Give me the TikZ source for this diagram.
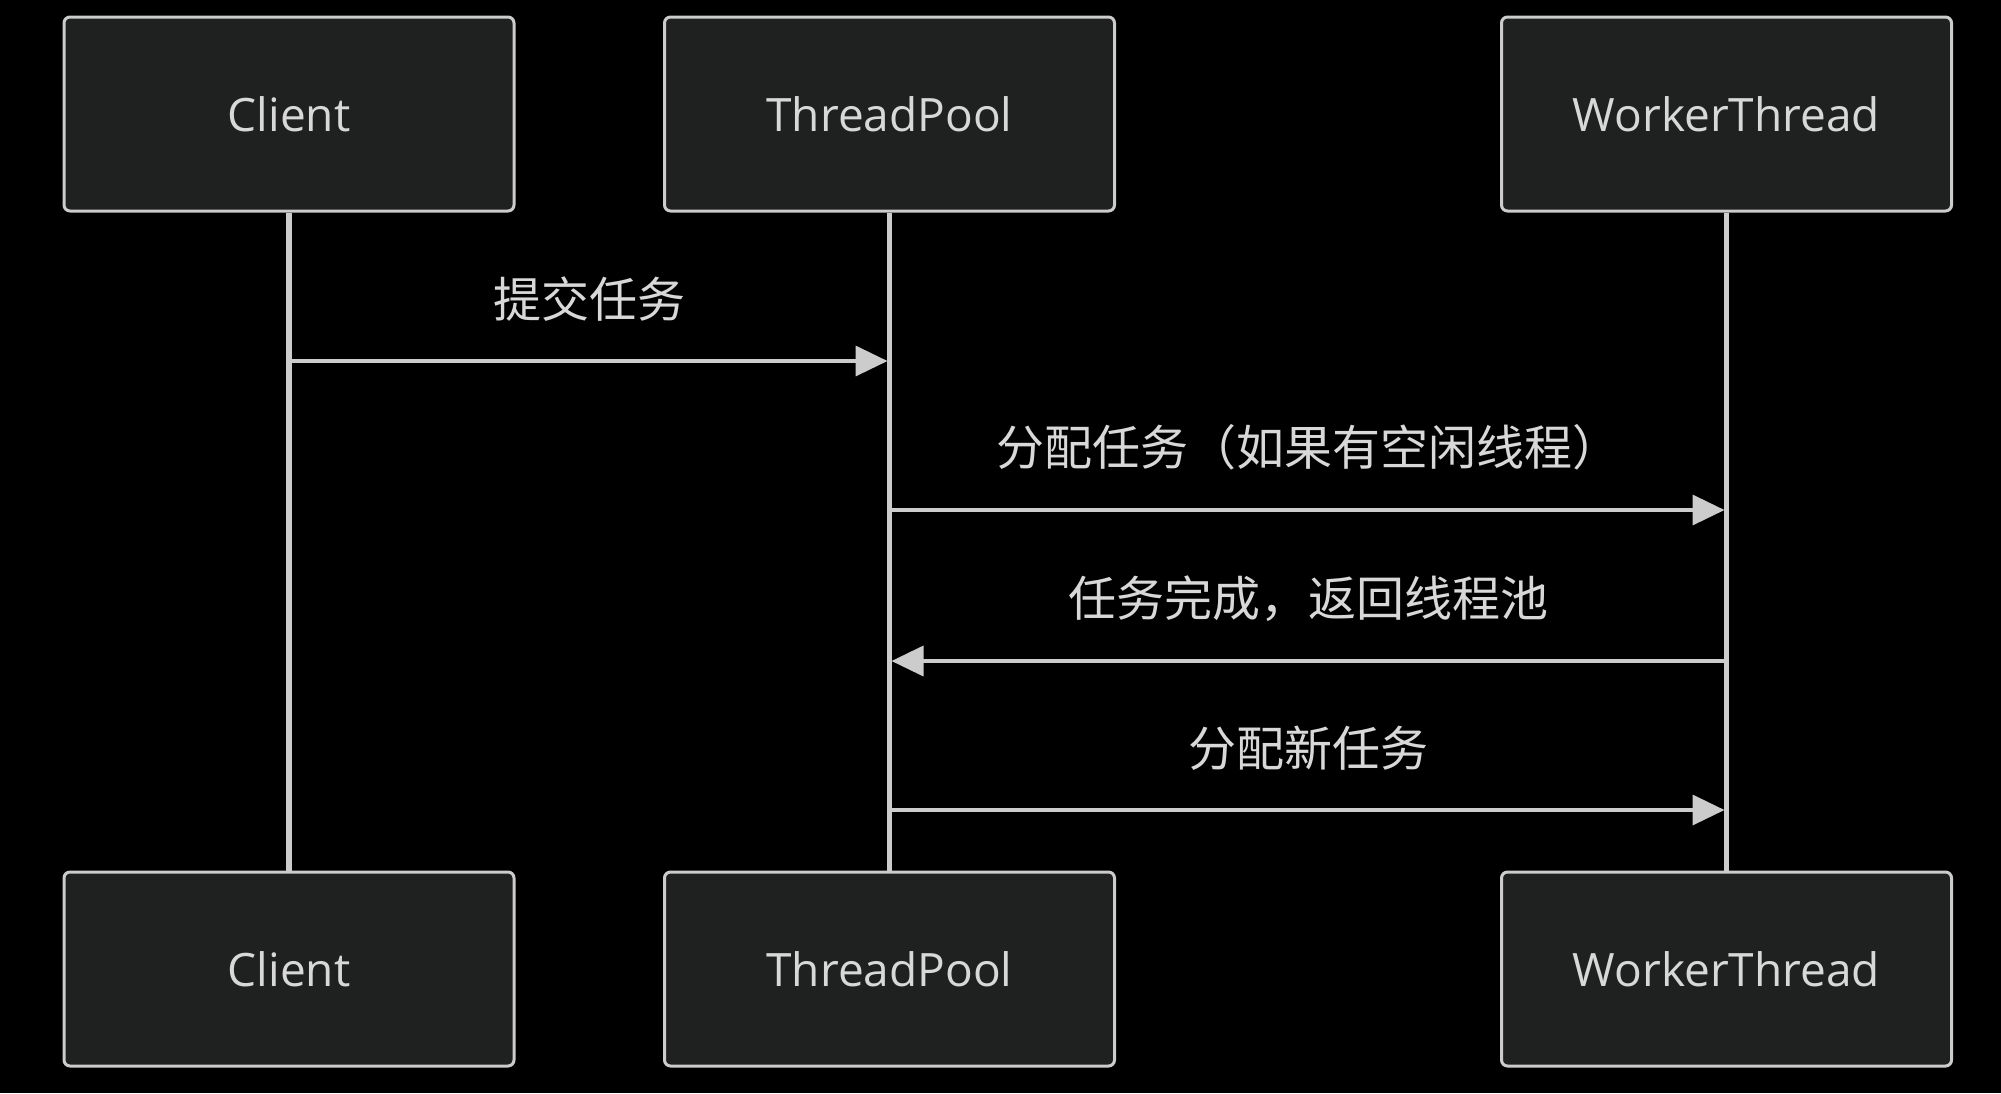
\documentclass[tikz,border=0pt]{standalone}
\usepackage{fontspec}
\setmainfont{Open Sans}
\newfontfamily\cjk{Noto Sans CJK SC}
\usepackage{xcolor}
\usetikzlibrary{arrows.meta}

\definecolor{boxfill}{HTML}{1F2020}
\definecolor{lineclr}{HTML}{CCCCCC}
\definecolor{textclr}{HTML}{D8D8D8}

\tikzset{
  actor/.style={draw=lineclr,line width=1.5pt,fill=boxfill,rounded corners=3pt,
    minimum width=225pt,minimum height=97pt,text=textclr,
    font=\fontsize{23pt}{27pt}\selectfont},
  lifeline/.style={draw=lineclr,line width=2.6pt},
  msg/.style={draw=lineclr,line width=1.8pt,
    -{Triangle[length=16pt,width=15pt]},shorten >=1pt},
  msglabel/.style={text=textclr,font=\cjk\fontsize{24pt}{28pt}\selectfont}
}

\begin{document}
\begin{tikzpicture}[x=0.5pt,y=-0.5pt]
  % canvas in pixels of the 2001 x 1093 reference, y downward
  \fill[black] (0,0) rectangle (2001,1093);
  \useasboundingbox (0,0) rectangle (2001,1093);

  % participants (top and bottom)
  \node[actor] (clientT) at (289,114)    {Client};
  \node[actor] (poolT)   at (889.5,114)  {ThreadPool};
  \node[actor] (workerT) at (1726.5,114) {WorkerThread};
  \node[actor] (clientB) at (289,969)    {Client};
  \node[actor] (poolB)   at (889.5,969)  {ThreadPool};
  \node[actor] (workerB) at (1726.5,969) {WorkerThread};

  % lifelines
  \draw[lifeline] (clientT.south) -- (clientB.north);
  \draw[lifeline] (poolT.south)   -- (poolB.north);
  \draw[lifeline] (workerT.south) -- (workerB.north);

  % message anchors on the lifelines
  \coordinate (c1) at (clientT.south |- 0,361);
  \coordinate (p1) at (poolT.south   |- 0,361);
  \coordinate (p2) at (poolT.south   |- 0,510);
  \coordinate (w2) at (workerT.south |- 0,510);
  \coordinate (p3) at (poolT.south   |- 0,661);
  \coordinate (w3) at (workerT.south |- 0,661);
  \coordinate (p4) at (poolT.south   |- 0,810);
  \coordinate (w4) at (workerT.south |- 0,810);

  % messages
  \draw[msg] (c1) -- (p1) node[msglabel,midway,above=15.5pt] (l1) {提交任务};
  \draw[msg] (p2) -- (w2) node[msglabel,midway,above=15.5pt] (l2) {分配任务（如果有空闲线程）};
  \draw[msg] (w3) -- (p3) node[msglabel,midway,above=15.5pt] (l3) {任务完成，返回线程池};
  \draw[msg] (p4) -- (w4) node[msglabel,midway,above=15.5pt] (l4) {分配新任务};
\end{tikzpicture}
\end{document}
